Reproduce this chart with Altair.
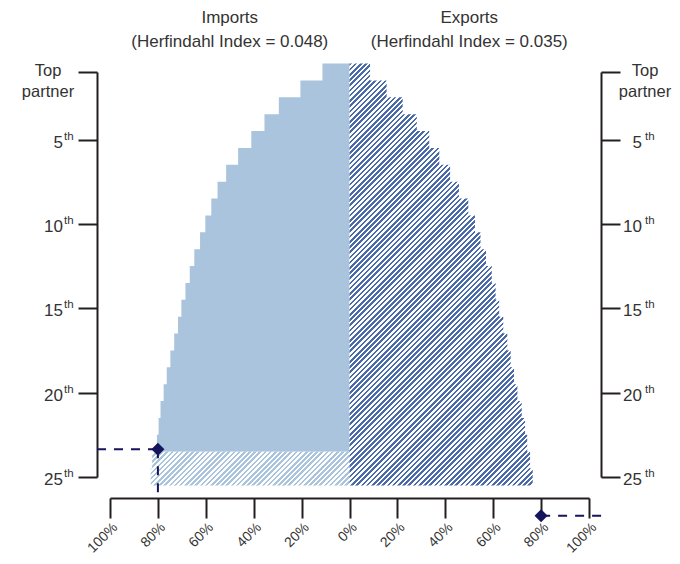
import altair as alt
import pandas as pd

# ---------------- data ----------------
ranks = list(range(1, 26))
# cumulative import share (%) by number of top partners, ranks 1-23 (solid)
imports_cum = [11.3, 20.5, 29.5, 35.5, 41.0, 46.5, 51.5, 55.1, 57.7, 60.2,
               62.4, 64.8, 66.7, 68.5, 70.2, 71.6, 73.2, 74.8, 76.3, 77.6,
               78.9, 79.7, 80.4]
# cumulative import share (%) ranks 24-25 (hatched)
imports_rest = [82.4, 83.0]
# cumulative export share (%) ranks 1-25 (hatched)
exports_cum = [8.6, 15.5, 22.2, 28.1, 33.3, 37.5, 42.0, 45.7, 49.6, 52.4,
               54.7, 57.0, 59.4, 61.0, 62.5, 64.2, 65.9, 67.3, 68.7, 70.1,
               71.9, 73.3, 74.2, 75.4, 76.5]
tick_ranks = [1, 5, 10, 15, 20, 25]
tick_numbers = ["Top\npartner", "5", "10", "15", "20", "25"]
x_ticks = [-100, -80, -60, -40, -20, 0, 20, 40, 60, 80, 100]
title_x = [-50, 50]
title_line1 = ["Imports", "Exports"]
title_line2 = ["(Herfindahl Index = 0.048)", "(Herfindahl Index = 0.035)"]
marker_share = [-80, 80]
marker_rank = [23.35, 27.3]

# ---------------- style ----------------
FONT = "Liberation Sans"
AXIS_C = "#231f20"
TEXT_C = "#333333"
SOLID_C = "#a9c4dc"
DARK_HATCH = "#4a6aaa"
LIGHT_HATCH = "#a9c4dc"
NAVY = "#16145c"

PW, PH = 479, 405
PX_PER_PCT = PW / 200.0
PX_PER_RANK = PH / 24.0


def hatch(color, w, h, period=5.2, duty=0.5):
    """45-degree stripes as a linear gradient in bounding-box units."""
    n = max(1, round((w + h) / period))
    k = (w + h) / (w * w + h * h)
    stops = []
    for i in range(n):
        s, m, e = i / n, (i + duty) / n, (i + 1) / n
        stops += [alt.GradientStop(color=color, offset=s),
                  alt.GradientStop(color=color, offset=m),
                  alt.GradientStop(color="white", offset=m),
                  alt.GradientStop(color="white", offset=e)]
    return alt.LinearGradient(gradient="linear", stops=stops,
                              x1=0, y1=0, x2=w * k, y2=h * k)


xscale = alt.Scale(domain=[-100, 100], nice=False, zero=False)
yscale = alt.Scale(domain=[1, 25], reverse=True, nice=False, zero=False)

x_axis = alt.Axis(values=x_ticks, labelExpr="abs(datum.value) + '%'",
                  orient="bottom", offset=21, tickSize=20, tickWidth=2,
                  domainWidth=2, domainColor=AXIS_C, tickColor=AXIS_C,
                  labelAngle=-45, labelFont=FONT, labelFontSize=14,
                  labelColor=TEXT_C, labelPadding=2, grid=False, title=None)
y_left = alt.Axis(orient="left", offset=13, values=tick_ranks, labels=False,
                  tickSize=19, tickWidth=2, domainWidth=2, domainColor=AXIS_C,
                  tickColor=AXIS_C, grid=False, title=None)
y_right = alt.Axis(orient="right", offset=12, values=tick_ranks, labels=False,
                   tickSize=19, tickWidth=2, domainWidth=2, domainColor=AXIS_C,
                   tickColor=AXIS_C, grid=False, title=None)


def box_df(rank_list, values, sign):
    m = max(values)
    return pd.DataFrame({"x": [sign * m], "x2": [0.0],
                         "y": [rank_list[0] - 0.5], "y2": [rank_list[-1] + 0.5]})


def mask_df(rank_list, values, sign, top):
    m = max(values) + 1.5
    rows = [{"x": sign * v, "x2": sign * m, "y": top, "y2": r + 0.5}
            for r, v in zip(rank_list, values) if v < max(values)]
    return pd.DataFrame(rows)


def rect_layer(df, fill, xaxis=None, yaxis=None):
    return alt.Chart(df).mark_rect(fill=fill).encode(
        x=alt.X("x:Q", scale=xscale, axis=xaxis),
        x2="x2",
        y=alt.Y("y:Q", scale=yscale, axis=yaxis),
        y2="y2",
    )


# solid imports: one block, then white masks carve the staircase
imp_box = rect_layer(box_df(ranks[:23], imports_cum, -1), SOLID_C, yaxis=y_left)
imp_mask = rect_layer(mask_df(ranks[:23], imports_cum, -1, 0.4), "white")

# hatched imports (ranks 24-25)
rest_ranks = ranks[23:]
rest_fill = hatch(LIGHT_HATCH, max(imports_rest) * PX_PER_PCT,
                  len(rest_ranks) * PX_PER_RANK)
imp_rest = rect_layer(box_df(rest_ranks, imports_rest, -1), rest_fill)
imp_rest_mask = rect_layer(mask_df(rest_ranks, imports_rest, -1, 23.5), "white")

# hatched exports
exp_fill = hatch(DARK_HATCH, max(exports_cum) * PX_PER_PCT,
                 len(ranks) * PX_PER_RANK)
exp_box = rect_layer(box_df(ranks, exports_cum, 1), exp_fill,
                     xaxis=x_axis, yaxis=y_right)
exp_mask = rect_layer(mask_df(ranks, exports_cum, 1, 0.4), "white")

# dashed guide lines to the 80% markers
axis_left_val = -100 - 13 / PX_PER_PCT
axis_bottom_rank = 25 + 21 / PX_PER_RANK
guide_df = pd.DataFrame({
    "x": [axis_left_val, marker_share[0], marker_share[1]],
    "x2": [marker_share[0], marker_share[0], 100 + 15 / PX_PER_PCT],
    "y": [marker_rank[0], marker_rank[0], marker_rank[1]],
    "y2": [marker_rank[0], axis_bottom_rank, marker_rank[1]],
})
guides = alt.Chart(guide_df).mark_rule(color=NAVY, strokeWidth=2,
                                       strokeDash=[9, 8]).encode(
    x=alt.X("x:Q", scale=xscale, axis=None), x2="x2:Q",
    y=alt.Y("y:Q", scale=yscale, axis=None), y2="y2:Q",
)

marker_df = pd.DataFrame({"x": marker_share, "y": marker_rank})
markers = alt.Chart(marker_df).mark_point(shape="diamond", filled=True,
                                          size=170, color=NAVY, opacity=1).encode(
    x=alt.X("x:Q", scale=xscale, axis=None),
    y=alt.Y("y:Q", scale=yscale, axis=None),
)

# y tick labels
num_df = pd.DataFrame({"y": tick_ranks[1:], "t": tick_numbers[1:]})
th_df = pd.DataFrame({"y": tick_ranks[1:], "t": ["th"] * (len(tick_ranks) - 1)})
top_df = pd.DataFrame({"y": tick_ranks[:1], "t": tick_numbers[:1]})

Y_NOAXIS = alt.Y("y:Q", scale=yscale, axis=None)


def num_layer(xpix):
    return alt.Chart(num_df).mark_text(
        align="right", baseline="alphabetic", dy=8, font=FONT, fontSize=17,
        color=TEXT_C).encode(x=alt.value(xpix), y=Y_NOAXIS, text="t:N")


def th_layer(xpix):
    return alt.Chart(th_df).mark_text(
        align="left", baseline="alphabetic", dy=0, font=FONT, fontSize=11.5,
        color=TEXT_C).encode(x=alt.value(xpix), y=Y_NOAXIS, text="t:N")


def top_layer(xpix):
    return alt.Chart(top_df).mark_text(
        align="center", baseline="middle", dy=-1.5, lineBreak="\n",
        lineHeight=21, font=FONT, fontSize=16.5, color=TEXT_C).encode(
        x=alt.value(xpix), y=Y_NOAXIS, text="t:N")


title_df = pd.DataFrame({"x": title_x, "l1": title_line1, "l2": title_line2})
title1 = alt.Chart(title_df).mark_text(
    align="center", baseline="alphabetic", font=FONT, fontSize=17,
    color=TEXT_C).encode(x=alt.X("x:Q", scale=xscale, axis=None),
                         y=alt.value(-49), text="l1:N")
title2 = alt.Chart(title_df).mark_text(
    align="center", baseline="alphabetic", font=FONT, fontSize=17,
    color=TEXT_C).encode(x=alt.X("x:Q", scale=xscale, axis=None),
                         y=alt.value(-25), text="l2:N")

chart = alt.layer(
    imp_box, imp_mask, imp_rest, imp_rest_mask, exp_box, exp_mask,
    guides, markers,
    num_layer(-47), th_layer(-46), top_layer(-62),
    num_layer(532), th_layer(535), top_layer(535),
    title1, title2,
).resolve_axis(x="independent", y="independent").properties(
    width=PW, height=PH,
    autosize=alt.AutoSizeParams(type="none"),
    padding={"left": 102, "top": 64, "right": 83, "bottom": 79},
).configure_view(stroke=None)

chart.save("out.html", embed_options={"renderer": "svg", "actions": False})
